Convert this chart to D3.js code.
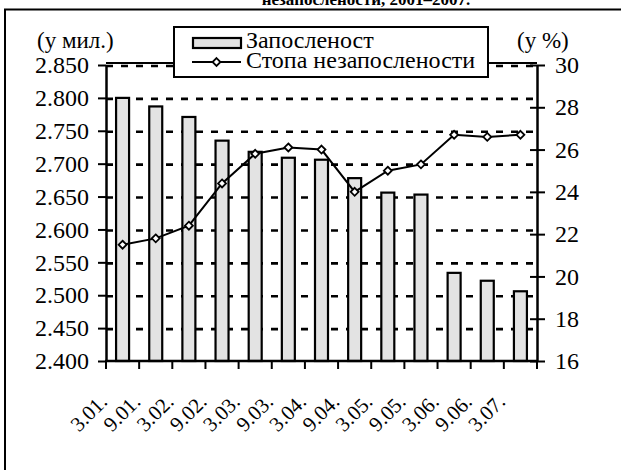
<!DOCTYPE html>
<html>
<head>
<meta charset="utf-8">
<script src="https://cdn.jsdelivr.net/npm/d3@7"></script>
<style>
  body { margin: 0; background: #fff; }
  svg text { font-family: "Liberation Serif", "Times New Roman", Times, "DejaVu Serif", "Noto Serif", serif; fill: #000; }
</style>
</head>
<body>
<div id="chart-area"></div>
<script>
// periods (month.year)
var periods = ['3.01.', '9.01.', '3.02.', '9.02.', '3.03.', '9.03.', '3.04.', '9.04.', '3.05.', '9.05.', '3.06.', '9.06.', '3.07.'];
// employment, millions (left axis)
var employment = [2.800, 2.787, 2.771, 2.735, 2.718, 2.709, 2.706, 2.678, 2.656, 2.653, 2.534, 2.522, 2.506];
// unemployment rate, % (right axis)
var unemploymentRate = [21.5, 21.8, 22.4, 24.4, 25.8, 26.1, 26.0, 24.0, 25.0, 25.3, 26.7, 26.6, 26.7];
var leftTicks = [2.400, 2.450, 2.500, 2.550, 2.600, 2.650, 2.700, 2.750, 2.800, 2.850];
var rightTicks = [16, 18, 20, 22, 24, 26, 28, 30];
var seriesNames = ['Запосленост', 'Стопа незапослености'];

var W = 621, H = 470;
var plot = { left: 106, right: 537, top: 65, bottom: 361 };
var serif = '"Liberation Serif", "Times New Roman", Times, "DejaVu Serif", "Noto Serif", serif';

var svg = d3.select('#chart-area').append('svg')
	.attr('width', W)
	.attr('height', H)
	.style('font-family', serif);

// title line cut at the top of the picture
svg.append('text')
	.attr('x', 366)
	.attr('y', 5)
	.attr('text-anchor', 'middle')
	.attr('font-size', '17px')
	.attr('font-weight', 'bold')
	.text('незапослености, 2001–2007.');

// outer frame (runs off the right and bottom edges)
svg.append('rect')
	.attr('x', 5).attr('y', 9.5)
	.attr('width', 700).attr('height', 600)
	.attr('fill', 'none')
	.attr('stroke', '#000')
	.attr('stroke-width', 2);

var xb = d3.scaleBand().domain(periods).range([plot.left, plot.right]);
var yL = d3.scaleLinear().domain([2.400, 2.850]).range([plot.bottom, plot.top]);
var yR = d3.scaleLinear().domain([16, 30]).range([plot.bottom, plot.top]);
var cx = (d, i) => xb(periods[i]) + xb.bandwidth() / 2;

// dashed gridlines
svg.append('g').selectAll('line').data(leftTicks.slice(1)).enter()
	.append('line')
	.attr('x1', plot.left).attr('x2', plot.right)
	.attr('y1', d => yL(d) + 1).attr('y2', d => yL(d) + 1)
	.attr('stroke', '#000')
	.attr('stroke-width', 2.6)
	.attr('stroke-dasharray', '7,8');

// plot top border
svg.append('line')
	.attr('x1', plot.left).attr('x2', plot.right)
	.attr('y1', plot.top - 2).attr('y2', plot.top - 2)
	.attr('stroke', '#000').attr('stroke-width', 2);

// bars
svg.append('g').selectAll('rect').data(employment).enter()
	.append('rect')
	.attr('x', (d, i) => cx(d, i) - 6.5)
	.attr('y', d => yL(d))
	.attr('width', 13)
	.attr('height', d => plot.bottom - yL(d))
	.attr('fill', '#e3e3e3')
	.attr('stroke', '#000')
	.attr('stroke-width', 2.2);

// left axis
var leftAxis = svg.append('g')
	.attr('transform', `translate(${plot.left},0)`)
	.call(d3.axisLeft(yL).tickValues(leftTicks).tickFormat(d3.format('.3f')).tickSize(8).tickPadding(9).tickSizeOuter(0));

// right axis
var rightAxis = svg.append('g')
	.attr('transform', `translate(${plot.right},0)`)
	.call(d3.axisRight(yR).tickValues(rightTicks).tickSize(8).tickPadding(10).tickSizeOuter(0));
rightAxis.selectAll('.tick').append('line').attr('x2', -7);

[leftAxis, rightAxis].forEach(a => {
	a.attr('font-family', serif).attr('font-size', '24px');
	a.select('.domain').attr('stroke', '#000').attr('stroke-width', 2.5);
	a.selectAll('.tick line').attr('stroke', '#000').attr('stroke-width', 2);
	a.selectAll('.tick text').attr('fill', '#000');
});

// bottom axis with ticks between categories
var bottomAxis = svg.append('g')
	.attr('transform', `translate(0,${plot.bottom})`);
bottomAxis.append('line')
	.attr('x1', plot.left - 1).attr('x2', plot.right + 1)
	.attr('stroke', '#000').attr('stroke-width', 2.5);
bottomAxis.selectAll('.tk').data(periods.concat(['end'])).enter()
	.append('line')
	.attr('class', 'tk')
	.attr('x1', (d, i) => i < periods.length ? xb(d) : plot.right)
	.attr('x2', (d, i) => i < periods.length ? xb(d) : plot.right)
	.attr('y1', 0).attr('y2', 8)
	.attr('stroke', '#000').attr('stroke-width', 2);
bottomAxis.selectAll('.lbl').data(periods).enter()
	.append('text')
	.attr('class', 'lbl')
	.attr('text-anchor', 'end')
	.attr('font-size', '21px')
	.attr('transform', (d, i) => `translate(${cx(d, i) - 14},42) rotate(-45)`)
	.text(d => d);

// unemployment line
var line = d3.line()
	.x((d, i) => cx(d, i))
	.y(d => yR(d));
svg.append('path')
	.datum(unemploymentRate)
	.attr('d', line)
	.attr('fill', 'none')
	.attr('stroke', '#000')
	.attr('stroke-width', 2);

var diamond = d3.symbol().type(d3.symbolDiamond2).size(40);
svg.append('g').selectAll('path').data(unemploymentRate).enter()
	.append('path')
	.attr('d', diamond)
	.attr('transform', (d, i) => `translate(${cx(d, i)},${yR(d)})`)
	.attr('fill', '#fff')
	.attr('stroke', '#000')
	.attr('stroke-width', 1.8);

// unit labels
svg.append('text').attr('x', 37).attr('y', 48).attr('font-size', '23px').text('(у мил.)');
svg.append('text').attr('x', 517).attr('y', 48).attr('font-size', '23px').text('(у %)');

// legend
var legend = svg.append('g');
legend.append('rect')
	.attr('x', 174).attr('y', 27)
	.attr('width', 314).attr('height', 50)
	.attr('fill', '#fff')
	.attr('stroke', '#000')
	.attr('stroke-width', 2);
legend.append('rect')
	.attr('x', 193).attr('y', 38)
	.attr('width', 48).attr('height', 10)
	.attr('fill', '#e3e3e3')
	.attr('stroke', '#000')
	.attr('stroke-width', 2.2);
legend.append('line')
	.attr('x1', 192).attr('x2', 241)
	.attr('y1', 62).attr('y2', 62)
	.attr('stroke', '#000').attr('stroke-width', 2);
legend.append('path')
	.attr('d', diamond)
	.attr('transform', 'translate(216.5,62)')
	.attr('fill', '#fff').attr('stroke', '#000').attr('stroke-width', 1.8);
legend.selectAll('text').data(seriesNames).enter()
	.append('text')
	.attr('x', 246)
	.attr('y', (d, i) => 48 + i * 20)
	.attr('font-size', '24px')
	.text(d => d);
</script>
</body>
</html>
